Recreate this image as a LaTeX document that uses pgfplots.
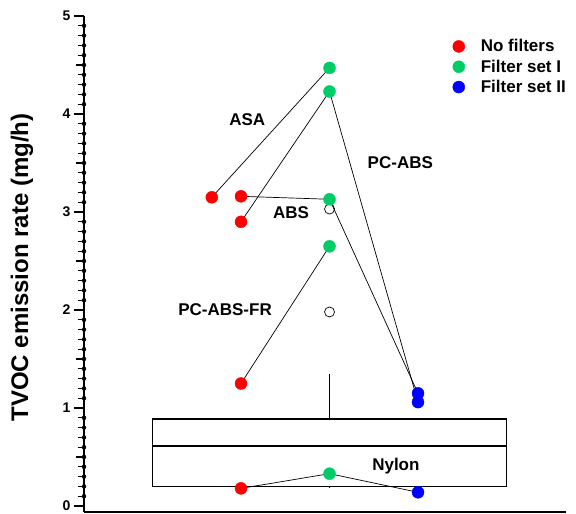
\documentclass[border=0pt]{standalone}
\usepackage{fontspec}
\setmainfont{Liberation Sans}
\usepackage{pgfplots}
\pgfplotsset{compat=1.18}
\usepgfplotslibrary{statistics}
\definecolor{cred}{RGB}{255,0,0}
\definecolor{cgreen}{RGB}{0,204,102}
\definecolor{cblue}{RGB}{0,0,255}
\newcommand{\annfont}{\bfseries\fontsize{17bp}{20bp}\selectfont}
\begin{document}
\begin{tikzpicture}
\begin{axis}[
  at={(0,0)}, anchor=south west,
  scale only axis, width=482bp, height=496bp,
  xmin=-0.774, xmax=4.672, ymin=-0.061, ymax=5,
  axis x line*=bottom, axis y line*=left,
  axis line style={-, line width=1.4bp},
  xtick=\empty,
  ytick={0,1,2,3,4,5},
  ytick pos=left,
  tick align=outside,
  major tick length=10bp,
  y tick style={black, line width=1.2bp},
  /pgf/number format/assume math mode=true,
  yticklabel style={font=\bfseries\fontsize{14bp}{16bp}\selectfont},
  ylabel={TVOC emission rate (mg/h)},
  ylabel style={at={(axis description cs:-0.1286,0.493)}, anchor=center, font=\bfseries\fontsize{24bp}{28bp}\selectfont},
  clip=false,
  legend style={at={(axis description cs:0.762,0.956)}, anchor=north west, draw=none, fill=none,
    font=\annfont, row sep=3.5bp, inner sep=0pt, nodes={inner ysep=1.5bp}},
  legend cell align=left,
  legend image code/.code={\draw[#1] plot coordinates {(0.3cm,0cm)}; \path (0.05cm,0cm) (1.0cm,0cm);},
]
% minor ticks on the y axis (drawn as error bars pointing left from the axis)
\addplot[only marks, mark=none, forget plot,
  error bars/.cd, x dir=minus, x fixed=0.068, error mark=none,
  error bar style={draw=black, line width=1.2bp}]
  coordinates {(-0.774,0.1) (-0.774,0.2) (-0.774,0.3) (-0.774,0.4) (-0.774,0.6) (-0.774,0.7) (-0.774,0.8) (-0.774,0.9)
    (-0.774,1.1) (-0.774,1.2) (-0.774,1.3) (-0.774,1.4) (-0.774,1.6) (-0.774,1.7) (-0.774,1.8) (-0.774,1.9)
    (-0.774,2.1) (-0.774,2.2) (-0.774,2.3) (-0.774,2.4) (-0.774,2.6) (-0.774,2.7) (-0.774,2.8) (-0.774,2.9)
    (-0.774,3.1) (-0.774,3.2) (-0.774,3.3) (-0.774,3.4) (-0.774,3.6) (-0.774,3.7) (-0.774,3.8) (-0.774,3.9)
    (-0.774,4.1) (-0.774,4.2) (-0.774,4.3) (-0.774,4.4) (-0.774,4.6) (-0.774,4.7) (-0.774,4.8) (-0.774,4.9)};
% half ticks
\addplot[only marks, mark=none, forget plot,
  error bars/.cd, x dir=minus, x fixed=0.09, error mark=none,
  error bar style={draw=black, line width=1.2bp}]
  coordinates {(-0.774,0.5) (-0.774,1.5) (-0.774,2.5) (-0.774,3.5) (-0.774,4.5)};
% box plot
\addplot[black, line width=1.8bp, forget plot,
  boxplot/draw direction=y,
  boxplot prepared={draw position=2, box extend=4, whisker extend=0,
    median=0.61, upper quartile=0.89, lower quartile=0.20,
    upper whisker=1.35, lower whisker=0.18}] coordinates {};
% outliers
\addplot[only marks, mark=o, mark size=5bp, black, mark options={line width=0.7bp}, forget plot]
  coordinates {(2,3.03) (2,1.98)};
% connecting lines
\addplot[black, line width=0.7bp, forget plot] coordinates {(0.67,3.15) (2,4.47)};
\addplot[black, line width=0.7bp, forget plot] coordinates {(1,2.90) (2,4.23) (3,1.06)};
\addplot[black, line width=0.7bp, forget plot] coordinates {(1,3.16) (2,3.13) (3,1.15)};
\addplot[black, line width=0.7bp, forget plot] coordinates {(1,1.25) (2,2.65)};
\addplot[black, line width=0.7bp, forget plot] coordinates {(1,0.18) (2,0.33) (3,0.14)};
% points
\addplot[only marks, mark=*, mark size=6bp, cred, mark options={draw=none, fill=cred}]
  coordinates {(0.67,3.15) (1,3.16) (1,2.90) (1,1.25) (1,0.18)};
\addlegendentry{No filters}
\addplot[only marks, mark=*, mark size=6bp, cgreen, mark options={draw=none, fill=cgreen}]
  coordinates {(2,4.47) (2,4.23) (2,3.13) (2,2.65) (2,0.33)};
\addlegendentry{Filter set I}
\addplot[only marks, mark=*, mark size=6bp, cblue, mark options={draw=none, fill=cblue}]
  coordinates {(3,1.15) (3,1.06) (3,0.14)};
\addlegendentry{Filter set II}
% labels
\node[font=\annfont] at (axis cs:1.07,3.94) {ASA};
\node[font=\annfont] at (axis cs:2.80,3.50) {PC-ABS};
\node[font=\annfont] at (axis cs:1.565,2.99) {ABS};
\node[font=\annfont] at (axis cs:0.82,2.00) {PC-ABS-FR};
\node[font=\annfont] at (axis cs:2.75,0.41) {Nylon};
\end{axis}
\pgfresetboundingbox
\path[use as bounding box] (-84bp,-2bp) rectangle (492bp,512bp);
\end{tikzpicture}
\end{document}
